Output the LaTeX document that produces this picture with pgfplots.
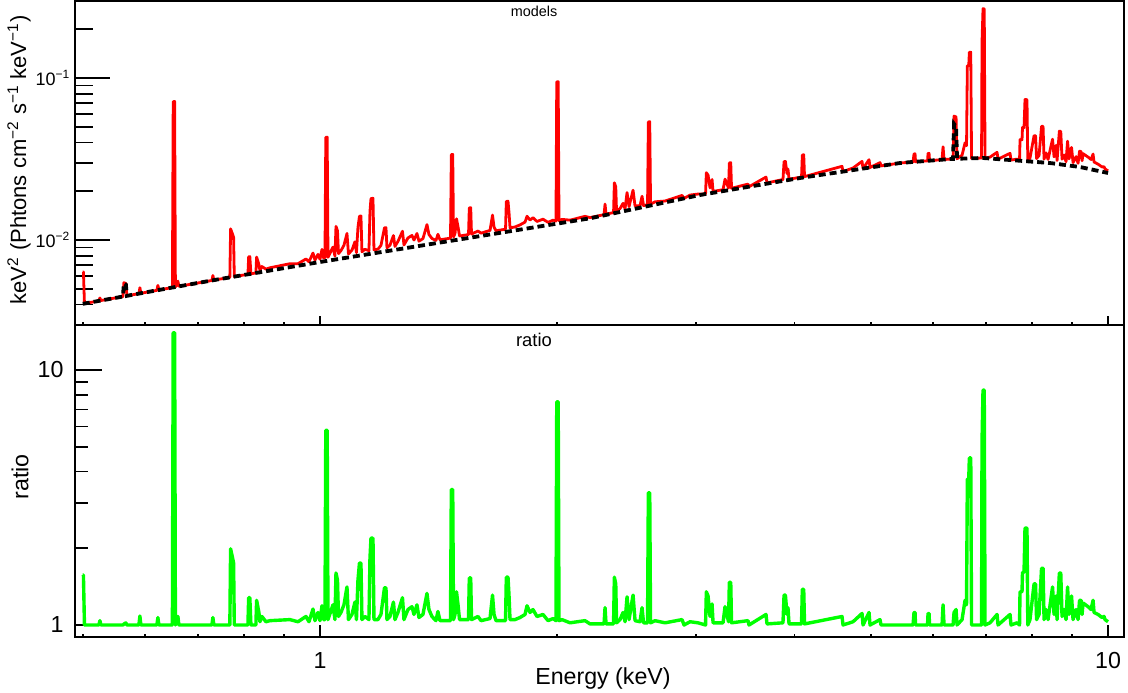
\documentclass[border=0pt]{standalone}
\usepackage{fontspec}
\setmainfont{Liberation Sans}
\usepackage{pgfplots}
\usepackage{pgfplotstable}
\pgfplotsset{compat=1.18}

\pgfplotstableread{
E cont model ratio
0.5000 0.004035 0.006335 1.57
0.5010 0.004042 0.006346 1.57
0.5025 0.004055 0.004055 1.00
0.5241 0.004208 0.004208 1.00
0.5257 0.004219 0.004388 1.04
0.5272 0.004230 0.004230 1.00
0.5623 0.004477 0.004477 1.00
0.5639 0.005400 0.005450 1.009
0.5672 0.005300 0.005400 1.019
0.5689 0.004523 0.004523 1.00
0.5892 0.004668 0.004668 1.00
0.5909 0.004680 0.005078 1.085
0.5926 0.004692 0.004692 1.00
0.6210 0.004890 0.004890 1.00
0.6228 0.004902 0.005245 1.07
0.6246 0.004915 0.004915 1.00
0.6498 0.005092 0.005092 1.00
0.6513 0.005100 0.07140 14.0
0.6540 0.005118 0.07165 14.0
0.6555 0.005127 0.005127 1.00
0.6603 0.005162 0.005575 1.08
0.6622 0.005175 0.005175 1.00
0.7293 0.005626 0.005626 1.00
0.7314 0.005641 0.006036 1.07
0.7335 0.005656 0.005656 1.00
0.7685 0.005878 0.005878 1.00
0.7703 0.005889 0.011719 1.99
0.7742 0.005916 0.010945 1.85
0.7771 0.005933 0.010383 1.75
0.7787 0.005943 0.005943 1.00
0.8102 0.006145 0.006145 1.00
0.8119 0.006151 0.007873 1.28
0.8147 0.006169 0.007896 1.28
0.8173 0.006182 0.006182 1.00
0.8293 0.006264 0.006264 1.00
0.8310 0.006274 0.007843 1.25
0.8366 0.006303 0.007059 1.12
0.8391 0.006316 0.006505 1.03
0.8440 0.006355 0.006863 1.08
0.8539 0.006417 0.006610 1.03
0.8640 0.006479 0.006738 1.04
0.9161 0.006802 0.007142 1.05
0.9377 0.006934 0.007142 1.03
0.9599 0.007070 0.007636 1.08
0.9684 0.007126 0.007340 1.03
0.9798 0.007192 0.008307 1.155
0.9855 0.007228 0.007517 1.04
0.9942 0.007281 0.008155 1.12
1.0000 0.007315 0.007608 1.04
1.0059 0.007349 0.008745 1.19
1.0103 0.007375 0.007744 1.05
1.0147 0.007400 0.007770 1.05
1.0171 0.007413 0.042995 5.8
1.0213 0.007437 0.043135 5.8
1.0237 0.007451 0.007824 1.05
1.0387 0.007537 0.009044 1.20
1.0448 0.007572 0.007951 1.05
1.0479 0.007589 0.012142 1.60
1.0525 0.007615 0.011423 1.50
1.0556 0.007633 0.008244 1.08
1.0632 0.007677 0.008598 1.12
1.0726 0.007730 0.009276 1.20
1.0821 0.007783 0.010974 1.41
1.0868 0.007810 0.008201 1.05
1.0980 0.007873 0.008660 1.10
1.1076 0.007928 0.009751 1.23
1.1125 0.007955 0.008353 1.05
1.1174 0.007983 0.011975 1.50
1.1223 0.008011 0.014019 1.75
1.1272 0.008039 0.014068 1.75
1.1305 0.008057 0.008460 1.05
1.1405 0.008113 0.008762 1.08
1.1539 0.008188 0.008597 1.05
1.1573 0.008207 0.015019 1.83
1.1607 0.008226 0.018015 2.19
1.1675 0.008264 0.018098 2.19
1.1709 0.008283 0.008697 1.05
1.1846 0.008360 0.008778 1.05
1.1951 0.008418 0.009260 1.10
1.2074 0.008486 0.011880 1.40
1.2127 0.008516 0.011922 1.40
1.2162 0.008536 0.008963 1.05
1.2269 0.008594 0.009282 1.08
1.2395 0.008664 0.010657 1.23
1.2450 0.008694 0.009129 1.05
1.2559 0.008754 0.009804 1.12
1.2726 0.008846 0.011323 1.28
1.2782 0.008876 0.009320 1.05
1.2932 0.008958 0.010302 1.15
1.3084 0.009041 0.010668 1.18
1.3161 0.009083 0.009991 1.10
1.3276 0.009146 0.010975 1.20
1.3354 0.009188 0.009831 1.07
1.3511 0.009273 0.010200 1.10
1.3670 0.009359 0.012447 1.33
1.3750 0.009402 0.010812 1.15
1.3871 0.009467 0.010224 1.08
1.4034 0.009555 0.009937 1.04
1.4116 0.009599 0.010847 1.13
1.4199 0.009643 0.010029 1.04
1.4644 0.009877 0.010272 1.04
1.4679 0.009895 0.033643 3.40
1.4739 0.009927 0.033752 3.40
1.4773 0.009945 0.010442 1.05
1.4838 0.009979 0.010977 1.10
1.4903 0.010013 0.013518 1.35
1.4969 0.010048 0.012058 1.20
1.5035 0.010082 0.010586 1.05
1.5435 0.010294 0.010809 1.05
1.5472 0.010313 0.015779 1.53
1.5535 0.010347 0.015831 1.53
1.5571 0.010366 0.010884 1.05
1.5870 0.010522 0.011364 1.08
1.6010 0.010595 0.011019 1.04
1.6437 0.010819 0.011468 1.06
1.6557 0.010880 0.014253 1.31
1.6630 0.010918 0.012010 1.10
1.6727 0.010968 0.011407 1.04
1.7198 0.011209 0.011657 1.04
1.7239 0.011229 0.017293 1.54
1.7324 0.011274 0.017362 1.54
1.7375 0.011300 0.014690 1.30
1.7426 0.011326 0.011892 1.05
1.7682 0.011458 0.012031 1.05
1.7942 0.011590 0.012401 1.07
1.8206 0.011724 0.012896 1.10
1.8313 0.011778 0.014016 1.19
1.8474 0.011860 0.013283 1.12
1.8637 0.011942 0.013733 1.15
1.8856 0.012052 0.013016 1.08
1.9190 0.012220 0.013442 1.10
1.9472 0.012362 0.012856 1.04
1.9759 0.012504 0.013254 1.06
1.9930 0.012588 0.013092 1.04
1.9976 0.012611 0.094583 7.50
2.0058 0.012652 0.094890 7.50
2.0105 0.012676 0.013183 1.04
2.0285 0.012764 0.013402 1.05
2.0765 0.013002 0.013262 1.02
2.1695 0.013459 0.013997 1.04
2.2014 0.013614 0.013750 1.01
2.2934 0.014197 0.014339 1.01
2.3001 0.014240 0.016661 1.17
2.3068 0.014283 0.014426 1.01
2.3580 0.014632 0.014778 1.01
2.3635 0.014645 0.022553 1.54
2.3732 0.014706 0.021324 1.45
2.3787 0.014741 0.015036 1.02
2.4031 0.014895 0.015640 1.05
2.4243 0.015031 0.016835 1.12
2.4385 0.015122 0.015576 1.03
2.4528 0.015213 0.019625 1.29
2.4671 0.015305 0.016070 1.05
2.4962 0.015492 0.020295 1.31
2.5108 0.015585 0.016208 1.04
2.5477 0.015823 0.016298 1.03
2.5627 0.015918 0.018624 1.17
2.5739 0.015991 0.016311 1.02
2.6042 0.016182 0.016506 1.02
2.6103 0.016221 0.053529 3.30
2.6210 0.016290 0.053757 3.30
2.6271 0.016330 0.016657 1.02
2.6619 0.016554 0.017216 1.04
2.7409 0.017060 0.017401 1.02
2.8806 0.017959 0.018857 1.05
2.8974 0.018068 0.018068 1.00
2.9486 0.018394 0.018946 1.03
3.0183 0.018844 0.019221 1.02
3.0853 0.019237 0.019237 1.00
3.0925 0.019273 0.026019 1.35
3.1079 0.019351 0.025156 1.30
3.1261 0.019420 0.020974 1.08
3.1444 0.019514 0.023612 1.21
3.1536 0.019561 0.019952 1.02
3.2471 0.020037 0.020438 1.02
3.2661 0.020136 0.023760 1.18
3.2997 0.020308 0.020917 1.03
3.3074 0.020346 0.029909 1.47
3.3209 0.020416 0.030012 1.47
3.3287 0.020455 0.020864 1.02
3.4932 0.021284 0.022135 1.04
3.5034 0.021335 0.021335 1.00
3.6818 0.022231 0.024454 1.10
3.6926 0.022285 0.022508 1.01
3.8691 0.023171 0.023634 1.02
3.8809 0.023241 0.030446 1.31
3.8968 0.023316 0.030544 1.31
3.9146 0.023388 0.025727 1.10
3.9261 0.023445 0.027431 1.17
3.9376 0.023502 0.023737 1.01
4.0839 0.024218 0.024460 1.01
4.0935 0.024262 0.033482 1.38
4.1102 0.024339 0.033588 1.38
4.1199 0.024383 0.024627 1.01
4.5970 0.026393 0.028504 1.08
4.6104 0.026449 0.026449 1.00
4.7472 0.027020 0.027831 1.03
4.8736 0.027542 0.030572 1.11
4.8879 0.027601 0.027601 1.00
4.9743 0.027957 0.031312 1.12
4.9889 0.028016 0.028016 1.00
5.1366 0.028621 0.030052 1.05
5.1516 0.028682 0.028682 1.00
5.4455 0.029867 0.029867 1.00
5.6570 0.030329 0.030329 1.00
5.6734 0.030346 0.033988 1.12
5.6900 0.030381 0.034027 1.12
5.6984 0.030398 0.030398 1.00
5.9019 0.030815 0.030815 1.00
5.9105 0.030832 0.034224 1.11
5.9278 0.030867 0.034262 1.11
5.9364 0.030884 0.030884 1.00
6.1575 0.031327 0.031327 1.00
6.1755 0.031363 0.037636 1.20
6.1936 0.031399 0.031399 1.00
6.3400 0.031652 0.031652 1.00
6.3587 0.031660 0.031660 1.00
6.3773 0.052000 0.058240 1.12
6.4147 0.050000 0.057500 1.15
6.4335 0.031724 0.031724 1.00
6.5282 0.031797 0.033387 1.05
6.5857 0.031834 0.039793 1.25
6.6146 0.031851 0.038221 1.20
6.6300 0.031866 0.119179 3.74
6.6572 0.031890 0.119269 3.74
6.6689 0.031896 0.144170 4.52
6.6963 0.031920 0.144278 4.52
6.7120 0.031935 0.031935 1.00
6.8807 0.032040 0.032040 1.00
6.9110 0.032062 0.032062 1.00
6.9207 0.032069 0.167400 5.22
6.9409 0.032084 0.267901 8.35
6.9653 0.032040 0.267534 8.35
6.9816 0.032017 0.032017 1.00
7.0843 0.031848 0.032485 1.02
7.2309 0.031608 0.034769 1.10
7.2521 0.031562 0.031562 1.00
7.5108 0.031173 0.034290 1.10
7.5328 0.031140 0.031140 1.00
7.6661 0.030944 0.031563 1.02
7.7222 0.030860 0.030860 1.00
7.7335 0.030844 0.041639 1.35
7.7788 0.030779 0.041552 1.35
7.7902 0.030763 0.049528 1.61
7.8244 0.030714 0.049450 1.61
7.8474 0.030681 0.073634 2.40
7.8934 0.030616 0.073478 2.40
7.9119 0.030590 0.030590 1.00
7.9629 0.030519 0.032045 1.05
8.0564 0.030390 0.044066 1.45
8.0918 0.030342 0.043996 1.45
8.1156 0.030310 0.031826 1.05
8.1751 0.030229 0.033252 1.10
8.2349 0.030145 0.050342 1.67
8.2711 0.030097 0.050262 1.67
8.2953 0.030066 0.031569 1.05
8.3439 0.030003 0.034503 1.15
8.3927 0.029940 0.031437 1.05
8.5038 0.029734 0.041925 1.41
8.5412 0.029651 0.032616 1.10
8.5913 0.029541 0.038403 1.30
8.6164 0.029486 0.030960 1.05
8.6748 0.029360 0.046976 1.60
8.7102 0.029283 0.046853 1.60
8.7432 0.029207 0.031544 1.08
8.7944 0.029096 0.033460 1.15
8.8459 0.028987 0.030436 1.05
8.8849 0.028904 0.040755 1.41
8.9239 0.028822 0.031704 1.10
8.9892 0.028686 0.037292 1.30
9.0287 0.028604 0.030034 1.05
9.1082 0.028442 0.032708 1.15
9.1615 0.028333 0.029750 1.05
9.2019 0.028251 0.035314 1.25
9.2423 0.028138 0.035173 1.25
9.2694 0.028052 0.030857 1.10
9.2963 0.027966 0.034119 1.22
9.4332 0.027542 0.032500 1.18
9.5163 0.027292 0.031386 1.15
9.5720 0.027127 0.033909 1.25
9.6000 0.027045 0.030290 1.12
9.7129 0.026718 0.029390 1.10
9.8272 0.026394 0.028242 1.07
9.8849 0.026236 0.028335 1.08
9.9127 0.026158 0.027466 1.05
10.0000 0.025918 0.026696 1.03
}\spec

\definecolor{rootgreen}{rgb}{0,1,0}

\begin{document}
\begin{tikzpicture}[x=1pt,y=1pt]
\useasboundingbox (0,0) rectangle (564,346);

% ---------- top panel: models ----------
\begin{axis}[at={(37.5pt,183.5pt)}, anchor=south west, scale only axis,
  width=524.25pt, height=162pt,
  xmode=log, ymode=log, xmin=0.4888, xmax=10.463,
  ymin=0.0029875, ymax=0.29875,
  axis line style={line width=1pt},
  tick align=inside, tick pos=left,
  every tick/.style={black, line width=0.9pt},
  xtick=\empty,
  ytick={0.01,0.1}, yticklabels={10\textsuperscript{−2},10\textsuperscript{−1}},
  minor ytick={0.003,0.004,0.005,0.006,0.007,0.008,0.009,0.02,0.03,0.04,0.05,0.06,0.07,0.08,0.09,0.2},
  major tick length=17.5pt, minor tick length=9pt,
  yticklabel style={font=\fontsize{9}{10}\selectfont, anchor=base east, yshift=-3.9pt, xshift=1.2pt},
]
\addplot[red, line width=1.4pt, line join=round] table[x=E, y=model]{\spec};
\addplot[black, line width=1.9pt, dash pattern=on 3.5pt off 2pt] table[x=E, y=cont]{\spec};
\end{axis}

\begin{axis}[at={(37.5pt,183.5pt)}, anchor=south west, scale only axis,
  width=524.25pt, height=162pt,
  xmode=log, ymode=log, xmin=0.4888, xmax=10.463,
  ymin=0.0029875, ymax=0.29875,
  axis line style={draw=none},
  tick align=inside, tick pos=left,
  every tick/.style={black, line width=0.9pt},
  ytick=\empty, xtick={1,10}, xticklabels={,},
  minor xtick={0.5,0.6,0.7,0.8,0.9,2,3,4,5,6,7,8,9},
  major tick length=4.5pt, minor tick length=1.75pt,
]
\end{axis}

% ---------- bottom panel: ratio ----------
\begin{axis}[at={(37.5pt,27.5pt)}, anchor=south west, scale only axis,
  width=524.25pt, height=156pt,
  xmode=log, ymode=log, xmin=0.4888, xmax=10.463,
  ymin=0.89734, ymax=15.013,
  axis line style={line width=1pt},
  tick align=inside, tick pos=left,
  every tick/.style={black, line width=0.9pt},
  xtick=\empty,
  ytick={1,10}, yticklabels={1,10},
  minor ytick={2,3,4,5,6,7,8,9},
  major tick length=13.5pt, minor tick length=6.7pt,
  yticklabel style={font=\fontsize{11.6}{13}\selectfont, xshift=-2.2pt},
]
\addplot[rootgreen, line width=1.7pt, line join=round] table[x=E, y=ratio]{\spec};
\end{axis}

\begin{axis}[at={(37.5pt,27.5pt)}, anchor=south west, scale only axis,
  width=524.25pt, height=156pt,
  xmode=log, ymode=log, xmin=0.4888, xmax=10.463,
  ymin=0.89734, ymax=15.013,
  axis line style={draw=none},
  tick align=inside, tick pos=left,
  every tick/.style={black, line width=0.9pt},
  ytick=\empty, xtick={1,10}, xticklabels={1,10},
  minor xtick={0.5,0.6,0.7,0.8,0.9,2,3,4,5,6,7,8,9},
  major tick length=6pt, minor tick length=1.75pt,
  xticklabel style={font=\fontsize{11.6}{13}\selectfont, yshift=-4pt},
]
\end{axis}

% ---------- titles and labels ----------
\node[font=\fontsize{7.2}{8}\selectfont, anchor=base] at (267,337.5) {models};
\node[font=\fontsize{9.2}{11}\selectfont, anchor=base] at (267,172.7) {ratio};
\node[rotate=90, font=\fontsize{11}{12}\selectfont] at (9.5,266)
  {keV\textsuperscript{2} (Phtons cm\textsuperscript{−2} s\textsuperscript{−1} keV\textsuperscript{−1})};
\node[rotate=90, font=\fontsize{11.6}{13}\selectfont] at (10,107.5) {ratio};
\node[font=\fontsize{11.6}{13}\selectfont, anchor=base] at (301.5,4) {Energy (keV)};
\end{tikzpicture}
\end{document}
